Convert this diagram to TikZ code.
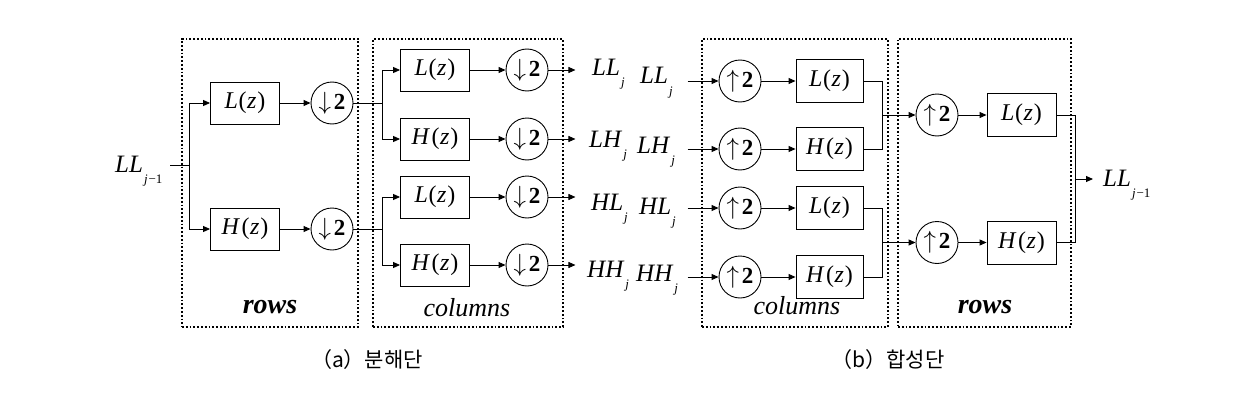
\documentclass[tikz,border=0pt]{standalone}
\usepackage{fontspec}
\setmainfont{Liberation Serif}
\newfontfamily\krfont{Noto Sans CJK KR}
\usetikzlibrary{arrows.meta}
\newcommand\subj[1]{\raisebox{-0.45em}{\fontsize{13}{13}\selectfont\kern1pt #1}}
\newcommand\FL{\textit{L}\kern0.5pt(\kern0.5pt\textit{z}\kern1pt)}
\newcommand\FH{\textit{H}\kern1.5pt(\kern0.5pt\textit{z}\kern1pt)}
\newcommand\DN{$\downarrow$\kern3pt\textbf{2}}
\newcommand\UP{$\uparrow$\kern3pt\textbf{2}}
\begin{document}
\begin{tikzpicture}[x=1pt,y=-1pt,
  filt/.style={draw, line width=0.9pt, minimum width=69pt, minimum height=42pt, inner sep=0pt, font=\fontsize{24}{24}\selectfont},
  samp/.style={draw, circle, line width=0.9pt, minimum size=42pt, inner sep=0pt, font=\fontsize{23}{23}\selectfont},
  grp/.style={draw, dotted, line width=1.8pt, inner sep=0pt},
  conn/.style={line width=0.9pt},
  arr/.style={conn, -{Triangle[length=7pt,width=6pt]}},
  lab/.style={font=\fontsize{25}{25}\selectfont, inner sep=0pt, anchor=base west},
  grplab/.style={inner sep=0pt, font=\fontsize{27}{27}\selectfont},
  captxt/.style={inner sep=0pt, font=\krfont\fontsize{21}{21}\selectfont}]
\useasboundingbox (0,0) rectangle (1244,412);
% group boxes
\node[grp, minimum width=176pt, minimum height=288pt] (gA1) at (270,183) {};
\node[grp, minimum width=190pt, minimum height=288pt] (gA2) at (468,183) {};
\node[grp, minimum width=186pt, minimum height=288pt] (gB1) at (795,183) {};
\node[grp, minimum width=173pt, minimum height=288pt] (gB2) at (984.5,183) {};
\node[grplab, font=\fontsize{28}{28}\selectfont\bfseries\itshape] (tA1) at (270,307) {rows};
\node[grplab, font=\fontsize{26}{26}\selectfont\itshape] (tA2) at (467,308) {columns};
\node[grplab, font=\fontsize{26}{26}\selectfont\itshape] (tB1) at (797,306) {columns};
\node[grplab, font=\fontsize{28}{28}\selectfont\bfseries\itshape] (tB2) at (985,307) {rows};
% analysis, rows
\node[lab] (in) at (115,172) {\textit{LL}\subj{\textit{j}\kern1pt−1}};
\coordinate (src) at (170,165);
\coordinate (br1) at (189,165);
\node[filt] (La) at (245,103) {\FL};
\node[filt] (Ha) at (245,229) {\FH};
\node[samp] (Da1) at (332,103) {\DN};
\node[samp] (Da2) at (332,229) {\DN};
\draw[conn] (src) -- (br1);
\draw[arr] (br1) |- (La.west);
\draw[arr] (br1) |- (Ha.west);
\draw[arr] (La) -- (Da1);
\draw[arr] (Ha) -- (Da2);
% analysis, columns
\coordinate (b2) at (382,103);
\coordinate (b3) at (382,229);
\node[filt] (Lc1) at (435,70) {\FL};
\node[filt] (Hc1) at (435,139) {\FH};
\node[filt] (Lc2) at (435,197) {\FL};
\node[filt] (Hc2) at (435,265) {\FH};
\node[samp] (Dc1) at (527,70) {\DN};
\node[samp] (Dc2) at (527,139) {\DN};
\node[samp] (Dc3) at (527,197) {\DN};
\node[samp] (Dc4) at (527,265) {\DN};
\draw[conn] (Da1.east) -- (b2);
\draw[conn] (Da2.east) -- (b3);
\draw[arr] (b2) |- (Lc1.west);
\draw[arr] (b2) |- (Hc1.west);
\draw[arr] (b3) |- (Lc2.west);
\draw[arr] (b3) |- (Hc2.west);
\draw[arr] (Lc1) -- (Dc1);
\draw[arr] (Hc1) -- (Dc2);
\draw[arr] (Lc2) -- (Dc3);
\draw[arr] (Hc2) -- (Dc4);
\foreach \i in {1,...,4}{\draw[arr] (Dc\i.east) -- ++(27,0);}
\node[lab] (oLL) at (592,75) {\textit{LL}\subj{\textit{j}}};
\node[lab] (oLH) at (589,147) {\textit{LH}\subj{\textit{j}}};
\node[lab] (oHL) at (591,210) {\textit{HL}\subj{\textit{j}}};
\node[lab] (oHH) at (587,277) {\textit{HH}\subj{\textit{j}}};
% synthesis, columns
\node[lab] (iLL) at (640,84) {\textit{LL}\subj{\textit{j}}};
\node[lab] (iLH) at (637,153) {\textit{LH}\subj{\textit{j}}};
\node[lab] (iHL) at (639,214) {\textit{HL}\subj{\textit{j}}};
\node[lab] (iHH) at (636,281) {\textit{HH}\subj{\textit{j}}};
\node[samp] (U1) at (740,81) {\UP};
\node[samp] (U2) at (740,149) {\UP};
\node[samp] (U3) at (740,208) {\UP};
\node[samp] (U4) at (740,277) {\UP};
\node[filt, minimum width=67pt, minimum height=43pt] (Ls1) at (829.5,81) {\FL};
\node[filt, minimum width=67pt, minimum height=43pt] (Hs1) at (829.5,149) {\FH};
\node[filt, minimum width=67pt, minimum height=43pt] (Ls2) at (829.5,208) {\FL};
\node[filt, minimum width=67pt, minimum height=43pt] (Hs2) at (829.5,277) {\FH};
\foreach \i in {1,...,4}{\draw[arr] (U\i.west) ++(-31,0) -- (U\i.west);}
\draw[arr] (U1) -- (Ls1);
\draw[arr] (U2) -- (Hs1);
\draw[arr] (U3) -- (Ls2);
\draw[arr] (U4) -- (Hs2);
\coordinate (m1) at (882,115);
\coordinate (m2) at (882,242.5);
\draw[conn] (Ls1.east) -| (m1) |- (Hs1.east);
\draw[conn] (Ls2.east) -| (m2) |- (Hs2.east);
% synthesis, rows
\node[samp] (Ur1) at (937,115) {\UP};
\node[samp] (Ur2) at (937,242.5) {\UP};
\node[filt, minimum height=43pt] (Lr) at (1021.5,115) {\FL};
\node[filt, minimum height=43pt] (Hr) at (1021.5,242.5) {\FH};
\draw[arr] (m1) -- (Ur1);
\draw[arr] (m2) -- (Ur2);
\draw[arr] (Ur1) -- (Lr);
\draw[arr] (Ur2) -- (Hr);
\coordinate (m3) at (1075,179);
\draw[conn] (Lr.east) -| (m3) |- (Hr.east);
\node[lab] (out) at (1103,186) {\textit{LL}\subj{\textit{j}\kern1pt−1}};
\draw[arr] (m3) -- ++(18,0);
% captions
\node[captxt] (capA) at (367,360) {（a）분해단};
\node[captxt] (capB) at (888,360) {（b）합성단};
\end{tikzpicture}
\end{document}
